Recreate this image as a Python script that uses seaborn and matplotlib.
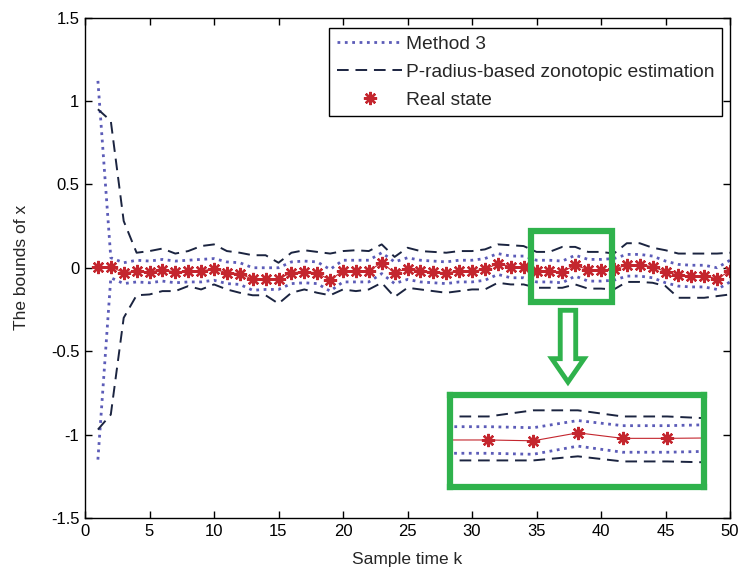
import matplotlib.pyplot as plt
import matplotlib.patches as mpatches
from matplotlib.lines import Line2D
import seaborn as sns

sns.set_style('ticks')
plt.rcParams['font.family'] = ['Liberation Sans', 'DejaVu Sans']

# sample times
k = list(range(1, 51))

# real state
state = [0.005, 0.007, -0.03, -0.02, -0.025, -0.012, -0.025, -0.02, -0.018, -0.008,
         -0.03, -0.035, -0.07, -0.065, -0.065, -0.03, -0.024, -0.03, -0.075, -0.018,
         -0.018, -0.018, 0.03, -0.03, -0.005, -0.018, -0.025, -0.03, -0.02, -0.02,
         -0.01, 0.025, 0.007, 0.007, -0.02, -0.02, -0.024, 0.015, -0.012, -0.012,
         -0.01, 0.017, 0.017, 0.007, -0.024, -0.045, -0.05, -0.05, -0.065, -0.02]

# P-radius-based zonotopic estimation bounds
pr_upper = [0.95, 0.88, 0.28, 0.09, 0.10, 0.115, 0.085, 0.10, 0.13, 0.14,
            0.10, 0.09, 0.075, 0.075, 0.03, 0.09, 0.105, 0.095, 0.085, 0.10,
            0.105, 0.10, 0.14, 0.065, 0.12, 0.10, 0.095, 0.09, 0.10, 0.10,
            0.11, 0.14, 0.135, 0.13, 0.095, 0.095, 0.125, 0.125, 0.095, 0.095,
            0.085, 0.147, 0.147, 0.12, 0.105, 0.085, 0.085, 0.085, 0.085, 0.09]
pr_lower = [-0.97, -0.88, -0.30, -0.165, -0.16, -0.14, -0.14, -0.11, -0.13, -0.10,
            -0.13, -0.15, -0.165, -0.165, -0.215, -0.15, -0.13, -0.15, -0.165, -0.13,
            -0.14, -0.13, -0.09, -0.175, -0.12, -0.13, -0.14, -0.15, -0.14, -0.13,
            -0.13, -0.09, -0.10, -0.10, -0.12, -0.12, -0.12, -0.10, -0.125, -0.125,
            -0.13, -0.085, -0.085, -0.09, -0.11, -0.18, -0.18, -0.18, -0.17, -0.16]

# Method 3 bounds
m3_upper = [1.12, 0.06, 0.03, 0.045, 0.04, 0.05, 0.04, 0.045, 0.05, 0.055,
            0.035, 0.03, 0.0, 0.0, 0.0, 0.035, 0.04, 0.035, -0.01, 0.045,
            0.045, 0.045, 0.09, 0.035, 0.06, 0.045, 0.04, 0.035, 0.045, 0.045,
            0.055, 0.085, 0.07, 0.07, 0.045, 0.045, 0.04, 0.075, 0.05, 0.05,
            0.055, 0.08, 0.08, 0.07, 0.04, 0.02, 0.015, 0.015, 0.0, 0.045]
m3_lower = [-1.15, -0.06, -0.095, -0.085, -0.09, -0.08, -0.09, -0.085, -0.085, -0.075,
            -0.095, -0.1, -0.135, -0.13, -0.13, -0.095, -0.09, -0.095, -0.14, -0.085,
            -0.085, -0.085, -0.035, -0.095, -0.07, -0.085, -0.09, -0.095, -0.085, -0.085,
            -0.075, -0.04, -0.06, -0.06, -0.085, -0.085, -0.09, -0.05, -0.08, -0.08,
            -0.075, -0.05, -0.05, -0.06, -0.09, -0.11, -0.115, -0.115, -0.13, -0.085]

m3_color = '#5c5cb8'
pr_color = '#1b2440'
st_color = '#c4262e'
green = '#2fb24c'
star = (8, 2, 0)


def draw_curves(ax):
    sns.lineplot(x=k, y=m3_upper, ax=ax, color=m3_color, linestyle=':', linewidth=2)
    sns.lineplot(x=k, y=m3_lower, ax=ax, color=m3_color, linestyle=':', linewidth=2)
    sns.lineplot(x=k, y=pr_upper, ax=ax, color=pr_color, linestyle=(0, (6, 3.5)), linewidth=1.4)
    sns.lineplot(x=k, y=pr_lower, ax=ax, color=pr_color, linestyle=(0, (6, 3.5)), linewidth=1.4)
    sns.lineplot(x=k, y=state, ax=ax, color=st_color, linewidth=0.8)
    ax.plot(k, state, linestyle='none', marker=star, markersize=9.5,
            markeredgewidth=1.7, color=st_color)


fig = plt.figure(figsize=(7.41, 5.75), dpi=100)
ax = fig.add_axes([85 / 741, 1 - 518 / 575, 645 / 741, 500.5 / 575])
draw_curves(ax)

ax.set_xlim(0, 50)
ax.set_ylim(-1.5, 1.5)
ax.set_xticks(range(0, 51, 5))
ax.set_yticks([-1.5, -1, -0.5, 0, 0.5, 1, 1.5])
ax.set_yticklabels(['-1.5', '-1', '-0.5', '0', '0.5', '1', '1.5'])
ax.tick_params(direction='in', top=True, right=True, length=5, width=1,
               labelsize=12, colors='black', pad=4)
for s in ax.spines.values():
    s.set_color('black')
    s.set_linewidth(1)
ax.set_xlabel('Sample time k', fontsize=12.5, labelpad=10)
ax.set_ylabel('The bounds of x', fontsize=12.5, labelpad=16)

handles = [
    Line2D([], [], color=m3_color, linestyle=':', linewidth=2),
    Line2D([], [], color=pr_color, linestyle=(0, (6, 3.5)), linewidth=1.4),
    Line2D([], [], color=st_color, linestyle='none', marker=star, markersize=9.5, markeredgewidth=1.7),
]
labels = ['Method 3', 'P-radius-based zonotopic estimation', 'Real state']
leg = ax.legend(handles, labels, loc='upper right', bbox_to_anchor=(0.988, 0.98),
                borderaxespad=0, fontsize=13.8, fancybox=False, framealpha=1,
                edgecolor='black', handlelength=3.4, handletextpad=0.2,
                labelspacing=0.55, borderpad=0.4)
leg.get_frame().set_linewidth(1)

# green box around the zoomed region
ax.add_patch(mpatches.Rectangle((34.57, -0.207), 6.28, 0.426, fill=False,
                                edgecolor=green, linewidth=4.5, zorder=5))
# hollow arrow pointing down to the inset
ax.add_patch(mpatches.FancyArrow(37.44, -0.255, 0, -0.43, width=1.2, head_width=2.5,
                                 head_length=0.14, length_includes_head=True,
                                 facecolor='white', edgecolor=green, linewidth=3.5,
                                 zorder=5, clip_on=False))

# inset with zoomed view
axin = fig.add_axes([450 / 741, 1 - 487 / 575, 254 / 741, 92 / 575])
draw_curves(axin)
axin.set_xlim(35.14, 40.82)
axin.set_ylim(-0.25, 0.20)
axin.set_xticks([])
axin.set_yticks([])
axin.set_xlabel('')
axin.set_ylabel('')
for s in axin.spines.values():
    s.set_color(green)
    s.set_linewidth(4.5)

fig.savefig('out.png', dpi=100)
